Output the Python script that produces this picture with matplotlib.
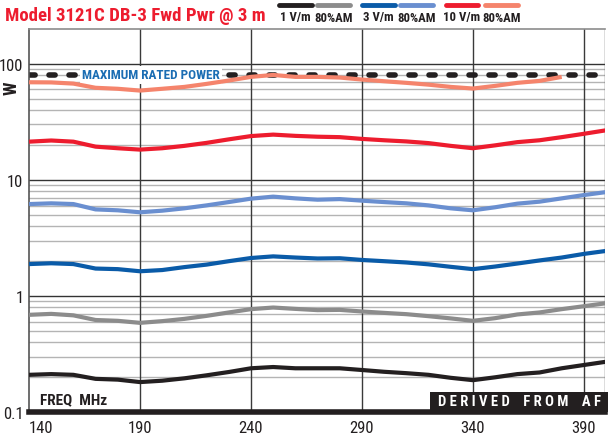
import matplotlib
matplotlib.use("Agg")
import matplotlib.pyplot as plt
from matplotlib import font_manager
from matplotlib.lines import Line2D
from matplotlib.patches import Rectangle

# a condensed sans, like the Helvetica Condensed of the original
available = {f.name for f in font_manager.fontManager.ttflist}
cond_font = 'Liberation Sans'
for name in ['Roboto Condensed', 'Archivo Narrow', 'Liberation Sans Narrow', 'PT Sans Narrow',
             'Barlow Semi Condensed']:
    if name in available:
        cond_font = name
        break
plt.rcParams['font.family'] = [cond_font, 'DejaVu Sans']

# frequencies (MHz)
freq = [140, 150, 160, 170, 180, 190, 200, 210, 220, 230, 240, 250, 260, 270,
        280, 290, 300, 310, 320, 330, 340, 350, 360, 370, 380, 390, 400]

# forward power (W)
p_1v = [0.209, 0.212, 0.209, 0.193, 0.190, 0.181, 0.186, 0.195, 0.207, 0.221, 0.238, 0.244, 0.238, 0.238,
        0.238, 0.230, 0.222, 0.216, 0.209, 0.197, 0.188, 0.199, 0.212, 0.219, 0.238, 0.254, 0.271]
p_1v_am = [0.687, 0.70, 0.68, 0.62, 0.61, 0.586, 0.606, 0.634, 0.673, 0.72, 0.769, 0.794, 0.773, 0.754,
           0.758, 0.734, 0.714, 0.696, 0.669, 0.64, 0.61, 0.643, 0.692, 0.72, 0.769, 0.815, 0.865]
p_3v = [1.88, 1.91, 1.88, 1.72, 1.70, 1.63, 1.67, 1.77, 1.86, 1.99, 2.12, 2.19, 2.14, 2.10,
        2.11, 2.04, 1.99, 1.94, 1.87, 1.78, 1.70, 1.79, 1.90, 2.02, 2.14, 2.30, 2.44]
p_3v_am = [6.18, 6.27, 6.18, 5.56, 5.46, 5.25, 5.42, 5.68, 6.02, 6.43, 6.88, 7.16, 6.92, 6.74,
           6.82, 6.61, 6.43, 6.27, 6.02, 5.68, 5.46, 5.80, 6.23, 6.48, 6.92, 7.39, 7.84]
p_10v = [21.3, 21.8, 21.3, 19.3, 18.7, 18.2, 18.7, 19.6, 20.8, 22.3, 23.8, 24.5, 23.9, 23.5,
         23.3, 22.5, 21.9, 21.4, 20.7, 19.6, 18.7, 19.8, 21.1, 21.9, 23.3, 24.9, 26.7]
# 10 V/m 80% AM stops at 380 MHz
p_10v_am = [69.2, 69.0, 67.4, 62.0, 60.8, 58.7, 60.8, 63.1, 67.0, 71.6, 77.0, 80.0, 77.0, 77.0,
            76.0, 73.0, 70.6, 68.4, 66.0, 63.1, 61.1, 64.4, 68.4, 71.1, 77.0]
max_rated = 80

xticks = [140, 190, 240, 290, 340, 390]
yticks = [0.1, 1, 10, 100]
ytick_labels = ['0.1', '1', '10', '100']

series = [
    (p_1v, '#231f20', '1 V/m'),
    (p_1v_am, '#8c8c8c', '80%AM'),
    (p_3v, '#0a5ba8', '3 V/m'),
    (p_3v_am, '#6a8fd0', '80%AM'),
    (p_10v, '#ed1c2e', '10 V/m'),
    (p_10v_am, '#f5846c', '80%AM'),
]

fig = plt.figure(figsize=(6.08, 4.35), dpi=100)
ax = fig.add_axes([29 / 608, 1 - 413 / 435, 576 / 608, 383 / 435])
ax.set_yscale('log')
ax.set_xlim(140, 399.5)
ax.set_ylim(0.1, 199)

# grid
for dec in [0.1, 1, 10]:
    for m in range(2, 10):
        ax.axhline(dec * m, color='#b4b4b4', lw=1.0, zorder=1)
for v in [1, 10, 100]:
    ax.axhline(v, color='#333333', lw=1.0, zorder=1)
for xv in xticks[1:]:
    ax.axvline(xv, color='#3a3a3a', lw=1.0, zorder=1)
ax.axvline(399.5, color='#555555', lw=1.0, zorder=1)

# max rated power
ax.axhline(max_rated, color='#231f20', lw=4, dashes=(1.1, 2.5), dash_capstyle='round', zorder=2)
ax.text(0.092, max_rated, 'MAXIMUM RATED POWER', transform=ax.get_yaxis_transform(),
        color='#1b6db3', fontsize=9.5, fontweight='bold', va='center', ha='left',
        bbox=dict(facecolor='white', edgecolor='none', pad=1.5), zorder=3)

for data, color, lab in series:
    ax.plot(freq[:len(data)], data, color=color, lw=3, solid_joinstyle='round',
            solid_capstyle='butt', zorder=4)

ax.set_xticks(xticks)
ax.set_xticklabels([str(x) for x in xticks], fontsize=12, color='#231f20')
ax.get_xticklabels()[0].set_ha('left')
ax.set_yticks(yticks)
ax.set_yticklabels(ytick_labels, fontsize=12, color='#231f20')
ax.yaxis.set_minor_locator(matplotlib.ticker.NullLocator())
ax.tick_params(length=0, pad=4)
ax.tick_params(axis='x', pad=6)

ax.spines['right'].set_visible(False)
ax.spines['top'].set_color('#8c8c8c')
ax.spines['top'].set_linewidth(1.2)
ax.spines['left'].set_color('#555555')
ax.spines['left'].set_linewidth(1.2)
ax.spines['bottom'].set_color('#231f20')
ax.spines['bottom'].set_linewidth(4)

ax.text(0.019, 0.034, 'FREQ  MHz', transform=ax.transAxes, fontsize=11,
        fontweight='bold', color='#231f20', va='center', ha='left', zorder=5)
ax.add_patch(Rectangle((0.696, 0), 0.31, 0.052, transform=ax.transAxes,
                       facecolor='#231f20', edgecolor='none', zorder=5, clip_on=False))
ax.text(0.852, 0.028, 'D E R I V E D    F R O M    A F', transform=ax.transAxes,
        fontsize=10.5, fontweight='bold', color='white', va='center', ha='center', zorder=6)

fig.text(12 / 608, 1 - 88 / 435, 'W', rotation=90, fontsize=13, fontweight='bold',
         color='#231f20', va='center', ha='center')

fig.text(5 / 608, 1 - 16 / 435, 'Model 3121C DB-3 Fwd Pwr @ 3 m', fontsize=13.5,
         fontweight='bold', color='#ed1c2e', va='center', ha='left')

# legend
leg_x = [(279, 312), (317, 350), (362, 395), (400, 433), (446, 478), (485, 518)]
for (x0, x1), (data, color, lab) in zip(leg_x, series):
    fig.add_artist(Line2D([x0 / 608, x1 / 608], [1 - 6 / 435, 1 - 6 / 435], color=color,
                          lw=3.5, solid_capstyle='round'))
    fig.text((x0 + x1) / 2 / 608, 1 - 18 / 435, lab, fontsize=9.2, fontweight='bold',
             color='#231f20', va='center', ha='center')

fig.savefig('out.png', dpi=100)
